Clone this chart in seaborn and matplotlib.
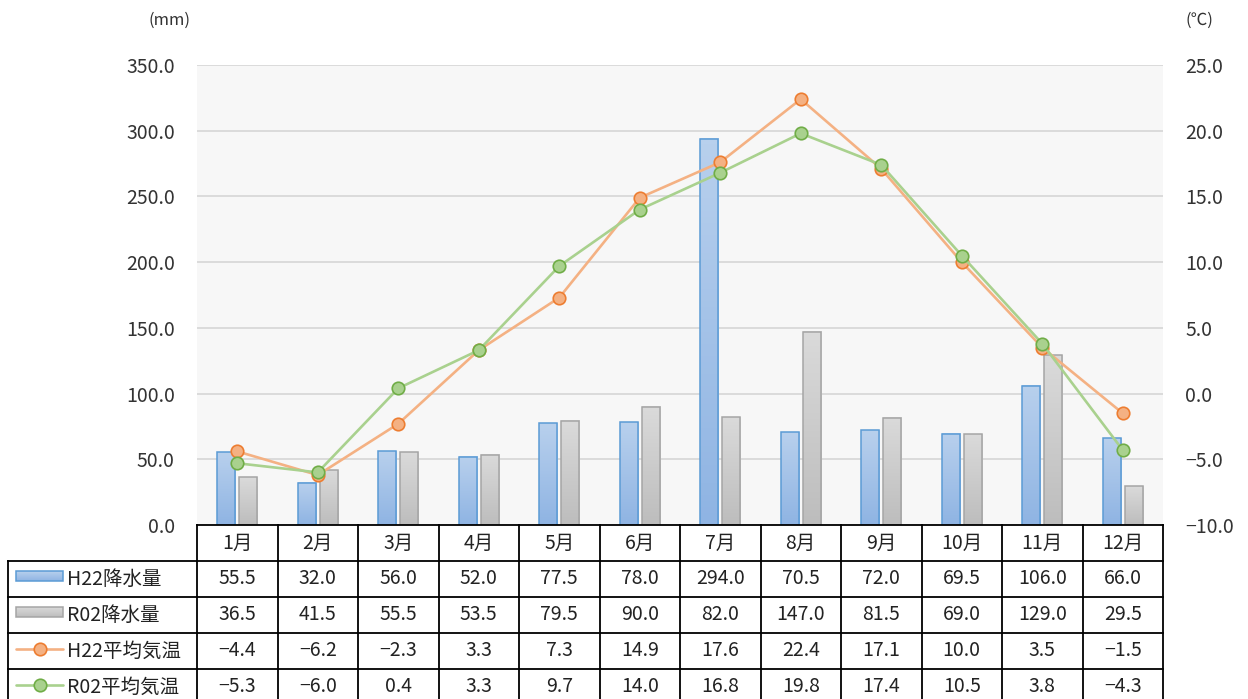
import numpy as np
import pandas as pd
import matplotlib
matplotlib.use("Agg")
import matplotlib.pyplot as plt
from matplotlib.patches import Rectangle
from matplotlib.lines import Line2D
from matplotlib.colors import LinearSegmentedColormap
from matplotlib.ticker import MultipleLocator, FuncFormatter
import seaborn as sns

# ---- data ----
months = [f"{i}月" for i in range(1, 13)]
rain_h22 = [55.5, 32.0, 56.0, 52.0, 77.5, 78.0, 294.0, 70.5, 72.0, 69.5, 106.0, 66.0]
rain_r02 = [36.5, 41.5, 55.5, 53.5, 79.5, 90.0, 82.0, 147.0, 81.5, 69.0, 129.0, 29.5]
temp_h22 = [-4.4, -6.2, -2.3, 3.3, 7.3, 14.9, 17.6, 22.4, 17.1, 10.0, 3.5, -1.5]
temp_r02 = [-5.3, -6.0, 0.4, 3.3, 9.7, 14.0, 16.8, 19.8, 17.4, 10.5, 3.8, -4.3]
series_names = ["H22降水量", "R02降水量", "H22平均気温", "R02平均気温"]

# ---- styles ----
BLUE_TOP, BLUE_BOT, BLUE_EDGE = "#b8d0ed", "#8fb4e3", "#5b9bd5"
GRAY_TOP, GRAY_BOT, GRAY_EDGE = "#dadada", "#bdbdbd", "#a5a5a5"
ORANGE_LINE, ORANGE_EDGE = "#f4b183", "#ed7d31"
GREEN_LINE, GREEN_EDGE = "#a9d18e", "#70ad47"
FS = 14

sns.set_style("white")
plt.rcParams["font.family"] = ["Noto Sans CJK JP", "DejaVu Sans"]

W, H = 1248, 699
fig = plt.figure(figsize=(W / 100, H / 100), dpi=100)

# plot area in pixels
PL, PR, PT, PB = 197, 1163, 65, 525
ax = fig.add_axes([PL / W, 1 - PB / H, (PR - PL) / W, (PB - PT) / H])
ax.set_facecolor("#f7f7f7")


def fill_gradient(a, patch, top, bottom, inverted=False):
    x0, y0 = patch.get_x(), patch.get_y()
    w, h = patch.get_width(), patch.get_height()
    cmap = LinearSegmentedColormap.from_list("g", [bottom, top])
    ext = (x0, x0 + w, y0 + h, y0) if inverted else (x0, x0 + w, y0, y0 + h)
    img = a.imshow(np.linspace(0, 1, 64).reshape(-1, 1), cmap=cmap, aspect="auto",
                   extent=ext, origin="lower", zorder=patch.get_zorder() - 0.1,
                   clip_on=False)
    img.set_clip_path(patch)
    patch.set_facecolor("none")


# ---- bars ----
df = pd.DataFrame({
    "month": months * 2,
    "series": [series_names[0]] * 12 + [series_names[1]] * 12,
    "value": rain_h22 + rain_r02,
})
sns.barplot(data=df, x="month", y="value", hue="series", palette=[BLUE_BOT, GRAY_BOT],
            width=0.55, gap=0.18, errorbar=None, legend=False, ax=ax, linewidth=1.1)
bars = list(ax.patches)
for p in bars:
    p.set_zorder(2)
    cx = p.get_x() + p.get_width() / 2
    if cx < round(cx):
        p.set_edgecolor(BLUE_EDGE)
        fill_gradient(ax, p, BLUE_TOP, BLUE_BOT)
    else:
        p.set_edgecolor(GRAY_EDGE)
        fill_gradient(ax, p, GRAY_TOP, GRAY_BOT)

ax.set_xlim(-0.5, 11.5)
ax.set_ylim(0, 350)
ax.yaxis.set_major_locator(MultipleLocator(50))
ax.yaxis.set_major_formatter(FuncFormatter(lambda v, _: f"{v:.1f}"))
ax.yaxis.grid(True, color="#d9d9d9", linewidth=1.3)
ax.set_axisbelow(True)
ax.set_xticks([])
ax.set_xlabel("")
ax.set_ylabel("")
ax.tick_params(axis="y", length=0, pad=16, labelsize=FS, labelcolor="#333333")
for s in ax.spines.values():
    s.set_visible(False)

# ---- temperature lines ----
ax2 = ax.twinx()
pos = np.arange(len(months))
for temps, lc, ec in [(temp_h22, ORANGE_LINE, ORANGE_EDGE), (temp_r02, GREEN_LINE, GREEN_EDGE)]:
    sns.lineplot(x=pos, y=temps, ax=ax2, color=lc, linewidth=1.9, marker="o",
                 markersize=9, markerfacecolor=lc, markeredgecolor=ec,
                 markeredgewidth=1.2, sort=False, zorder=3)
ax2.set_ylim(-10, 25)
ax2.set_xlim(-0.5, 11.5)
ax2.yaxis.set_major_locator(MultipleLocator(5))
ax2.yaxis.set_major_formatter(FuncFormatter(lambda v, _: f"{v:.1f}".replace("-", "−")))
ax2.tick_params(axis="y", length=0, pad=16, labelsize=FS, labelcolor="#333333")
ax2.set_xticks([])
ax2.set_ylabel("")
for s in ax2.spines.values():
    s.set_visible(False)

fig.text(170 / W, 1 - 20 / H, "(mm)", ha="center", va="center", fontsize=12, color="#333333")
fig.text(1199 / W, 1 - 20 / H, "(℃)", ha="center", va="center", fontsize=12, color="#333333")

# ---- data table ----
TL, ROW = 8, 36
unit = (PR - PL) / 12.0
tax = fig.add_axes([TL / W, 1 - (PB + 5 * ROW) / H, (PR - TL) / W, 5 * ROW / H])
tax.set_xlim(-0.5 - (PL - TL) / unit, 11.5)
tax.set_ylim(5, 0)
tax.axis("off")
xl = -0.5 - (PL - TL) / unit
lk = dict(color="black", linewidth=1.3, clip_on=False, solid_capstyle="projecting")
tax.plot([-0.5, 11.5], [0, 0], **lk)
for r in range(1, 6):
    tax.plot([xl, 11.5], [r, r], **lk)
tax.plot([xl, xl], [1, 5], **lk)
for k in range(13):
    tax.plot([k - 0.5, k - 0.5], [0, 5], **lk)

for i, m in enumerate(months):
    tax.text(i, 0.5, m, ha="center", va="center", fontsize=FS, color="#222222")

rows = [rain_h22, rain_r02, temp_h22, temp_r02]
for r, vals in enumerate(rows, start=1):
    for i, v in enumerate(vals):
        tax.text(i, r + 0.5, f"{v:.1f}".replace("-", "−"), ha="center", va="center",
                 fontsize=FS, color="#222222")

# legend keys
kx0 = xl + 8 / unit
kx1 = xl + 55 / unit
kh = 10 / ROW
for r, (top, bot, edge) in enumerate([(BLUE_TOP, BLUE_BOT, BLUE_EDGE),
                                      (GRAY_TOP, GRAY_BOT, GRAY_EDGE)], start=1):
    rect = Rectangle((kx0, r + 0.42 - kh / 2), kx1 - kx0, kh, facecolor=bot,
                     edgecolor=edge, linewidth=1.1, zorder=3)
    tax.add_patch(rect)
    fill_gradient(tax, rect, top, bot, inverted=True)
for r, (lc, ec) in enumerate([(ORANGE_LINE, ORANGE_EDGE), (GREEN_LINE, GREEN_EDGE)], start=3):
    tax.add_line(Line2D([kx0, kx1], [r + 0.45, r + 0.45], color=lc, linewidth=1.9))
    tax.add_line(Line2D([(kx0 + kx1) / 2], [r + 0.45], marker="o", markersize=9,
                        markerfacecolor=lc, markeredgecolor=ec, markeredgewidth=1.2))
for r, name in enumerate(series_names, start=1):
    tax.text(xl + 59 / unit, r + 0.5, name, ha="left", va="center", fontsize=FS,
             color="#222222")

fig.savefig("out.png", dpi=100)
